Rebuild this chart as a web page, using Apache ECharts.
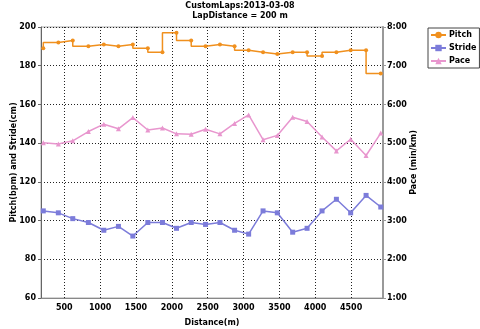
<!DOCTYPE html>
<html>
<head>
<meta charset="utf-8">
<script src="https://cdn.jsdelivr.net/npm/echarts@6/dist/echarts.min.js"></script>
<style>
html,body{margin:0;padding:0;background:#fff;}
#chart{width:480px;height:329px;}
</style>
</head>
<body>
<div id="chart"></div>
<script>
const titleText = 'CustomLaps:2013-03-08\nLapDistance = 200 m';
const distance = [207,417,618,836,1051,1255,1456,1665,1869,2065,2270,2470,2671,2875,3071,3272,3471,3685,3886,4095,4295,4494,4709,4914];
const pitch = [189,192,193,190,191,190,191,189,187,197,193,190,191,190,188,187,186,187,187,185,187,188,188,176];
const stride = [105,104,101,99,95,97,92,99,99,96,99,98,99,95,93,105,104,94,96,105,111,104,113,107];
const pace = [5.01,4.98,5.06,5.30,5.49,5.37,5.66,5.34,5.39,5.24,5.23,5.36,5.24,5.51,5.73,5.09,5.20,5.67,5.56,5.16,4.80,5.10,4.68,5.26];
const xTicks = [500,1000,1500,2000,2500,3000,3500,4000,4500];

const FONT = 'DejaVu Sans';
const pair = (xs, ys) => xs.map((x, i) => [x, ys[i]]);
const fmtPace = v => {
  let m = Math.floor(v + 1e-9), s = Math.round((v - m) * 60);
  return m + ':' + (s < 10 ? '0' : '') + s;
};
const lbl = {color:'#000', fontFamily:FONT, fontWeight:'bold', fontSize:8};
const gridLine = {show:true, lineStyle:{color:'#222', type:[1,2], width:1}};

const chart = echarts.init(document.getElementById('chart'), null, {renderer:'canvas'});
chart.setOption({
  animation:false,
  backgroundColor:'#fff',
  title:{
    text:titleText, left:'center', top:1, padding:0,
    textStyle:{fontFamily:FONT, fontWeight:'bold', fontSize:8, lineHeight:10, color:'#000'}
  },
  legend:{
    orient:'vertical', left:428, top:28,
    padding:[3,3,3,2], itemGap:5, itemWidth:15, itemHeight:8,
    borderColor:'#444', borderWidth:1, borderRadius:0,
    textStyle:{fontFamily:FONT, fontWeight:'bold', fontSize:8, color:'#000', padding:[0,0,0,-2]},
    data:['Pitch','Stride','Pace']
  },
  grid:{left:41, right:97, top:27, bottom:31, show:true, borderColor:'#aaa', borderWidth:1,
        containLabel:false, outerBoundsMode:'none'},
  xAxis:{
    type:'value', min:175, max:4945,
    name:'Distance(m)', nameLocation:'middle', nameGap:21, nameMoveOverlap:false,
    nameTextStyle:lbl,
    axisLine:{show:true, lineStyle:{color:'#888'}},
    axisTick:{show:false, customValues:xTicks},
    axisLabel:Object.assign({margin:6, customValues:xTicks, formatter:v => String(v)}, lbl),
    splitLine:gridLine
  },
  yAxis:[{
    type:'value', min:60, max:200, interval:20,
    name:'Pitch(bpm) and Stride(cm)', nameLocation:'middle', nameGap:23, nameRotate:90,
    nameMoveOverlap:false,
    nameTextStyle:lbl,
    axisLine:{show:true, lineStyle:{color:'#666', width:1}},
    axisTick:{show:true, length:3, lineStyle:{color:'#666'}},
    axisLabel:Object.assign({margin:5}, lbl),
    splitLine:gridLine
  },{
    type:'value', min:1, max:8, interval:1, position:'right',
    name:'Pace (min/km)', nameLocation:'middle', nameGap:27, nameRotate:90,
    nameMoveOverlap:false,
    nameTextStyle:lbl,
    axisLine:{show:true, lineStyle:{color:'#999', width:2}},
    axisTick:{show:true, length:3, lineStyle:{color:'#999'}},
    axisLabel:Object.assign({margin:4, formatter:fmtPace}, lbl),
    splitLine:{show:false}
  }],
  series:[{
    name:'Pitch', type:'line', step:'start', data:pair(distance, pitch),
    symbol:'circle', symbolSize:4, showAllSymbol:true,
    lineStyle:{color:'#F0901E', width:1.5}, itemStyle:{color:'#F0901E'}
  },{
    name:'Stride', type:'line', data:pair(distance, stride),
    symbol:'rect', symbolSize:5, showAllSymbol:true,
    lineStyle:{color:'#7C7CDA', width:1.5}, itemStyle:{color:'#7C7CDA'}
  },{
    name:'Pace', type:'line', yAxisIndex:1, data:pair(distance, pace),
    symbol:'triangle', symbolSize:5, showAllSymbol:true,
    lineStyle:{color:'#E896CE', width:1.5}, itemStyle:{color:'#E896CE'}
  }]
});
</script>
</body>
</html>
